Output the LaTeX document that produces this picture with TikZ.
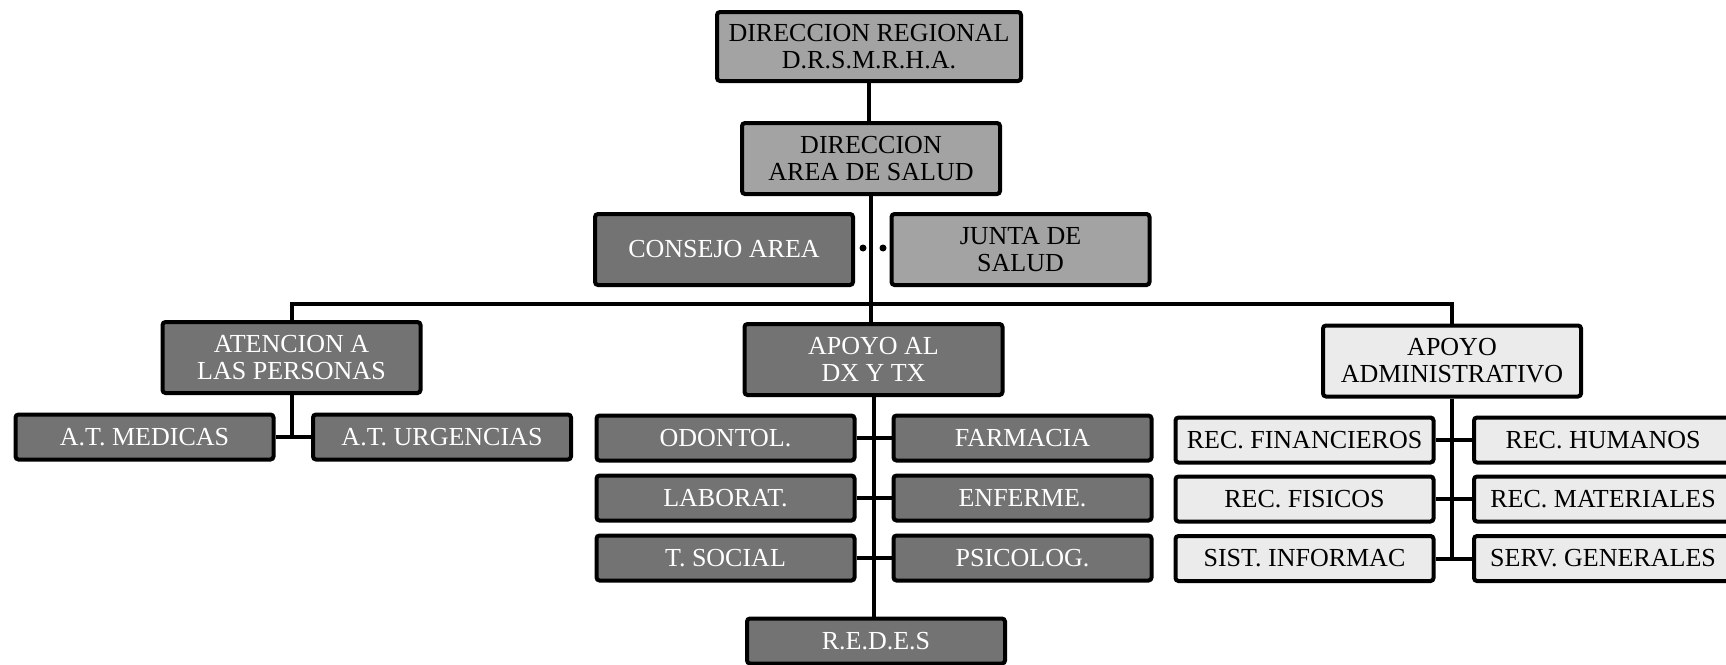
\documentclass[tikz,border=0pt]{standalone}
\usepackage{fontspec}
\setmainfont{Liberation Serif}
\usetikzlibrary{backgrounds}
\begin{document}
\begin{tikzpicture}[x=1pt,y=-1pt,
  box/.style={draw=black, line width=4pt, rounded corners=3pt, align=center,
    inner sep=0pt, font=\fontsize{26}{27}\selectfont},
  darkbox/.style={box, fill=black!55, text=white},
  midbox/.style={box, fill=black!36, text=black},
  lightbox/.style={box, fill=black!8, text=black},
  big/.style={minimum width=258pt, minimum height=71pt},
  small/.style={minimum width=258pt, minimum height=45pt},
  link/.style={draw=black, line width=4pt},
  dot/.style={circle, fill=black, inner sep=0pt, minimum size=7pt}]
\useasboundingbox (0,0) rectangle (1726,664);

% top levels
\node[midbox, minimum width=304pt, minimum height=69pt] (top) at (869,46.5) {DIRECCION REGIONAL\\D.R.S.M.R.H.A.};
\node[midbox, big] (area) at (871,158.5) {DIRECCION\\AREA DE SALUD};
\node[darkbox, big] (consejo) at (724,249.5) {CONSEJO AREA};
\node[midbox, big] (junta) at (1020.5,249.5) {JUNTA DE\\SALUD};

% second level
\node[darkbox, big] (atencion) at (291.5,357.5) {ATENCION A\\LAS PERSONAS};
\node[darkbox, big] (apoyodx) at (873.5,359.5) {APOYO AL\\DX Y TX};
\node[lightbox, big] (admin) at (1452,361) {APOYO\\ADMINISTRATIVO};

% left group
\node[darkbox, small] (medicas) at (144.5,437) {A.T. MEDICAS};
\node[darkbox, small] (urgencias) at (442,437) {A.T. URGENCIAS};

% middle group
\node[darkbox, small] (odontol) at (725.5,438) {ODONTOL.};
\node[darkbox, small] (farmacia) at (1022.5,438) {FARMACIA};
\node[darkbox, small] (laborat) at (725.5,498) {LABORAT.};
\node[darkbox, small] (enferme) at (1022.5,498) {ENFERME.};
\node[darkbox, small] (tsocial) at (725.5,558) {T. SOCIAL};
\node[darkbox, small] (psicolog) at (1022.5,558) {PSICOLOG.};
\node[darkbox, small] (redes) at (876,641) {R.E.D.E.S};

% right group
\node[lightbox, small] (recfin) at (1304.5,440) {REC. FINANCIEROS};
\node[lightbox, small] (rechum) at (1603,440) {REC. HUMANOS};
\node[lightbox, small] (recfis) at (1304.5,499) {REC. FISICOS};
\node[lightbox, small] (recmat) at (1603,499) {REC. MATERIALES};
\node[lightbox, small] (sist) at (1304.5,558.5) {SIST. INFORMAC};
\node[lightbox, small] (serv) at (1603,558.5) {SERV. GENERALES};

\node[dot] (d1) at (863,248) {};
\node[dot] (d2) at (883,248) {};

\begin{pgfonlayer}{background}
\fill[white] (0,0) rectangle (1726,664);
\coordinate (bus) at (872,304);
\draw[link] (top.south) -- (top.south |- area.north);
\draw[link] (area.south) -- (area.south |- apoyodx.north);
\draw[link] (atencion.north) |- (bus) -| (admin.north);

% left branch
\coordinate (lj) at (atencion.south |- medicas.east);
\draw[link] (atencion.south) -- (lj);
\draw[link] (medicas.east) -- (urgencias.west);

% middle branch
\draw[link] (apoyodx.south) -- (apoyodx.south |- redes.north);
\draw[link] (odontol.east) -- (farmacia.west);
\draw[link] (laborat.east) -- (enferme.west);
\draw[link] (tsocial.east) -- (psicolog.west);

% right branch
\coordinate (rj) at (admin.south |- sist.east);
\draw[link] (admin.south) -- (rj);
\draw[link] (recfin.east) -- (rechum.west);
\draw[link] (recfis.east) -- (recmat.west);
\draw[link] (sist.east) -- (serv.west);
\end{pgfonlayer}
\end{tikzpicture}
\end{document}
